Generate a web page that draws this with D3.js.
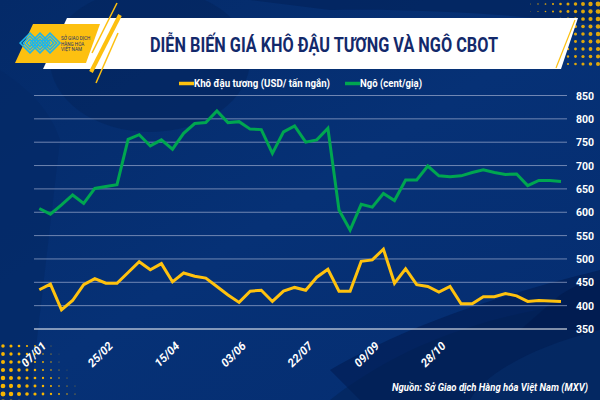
<!DOCTYPE html>
<html>
<head>
<meta charset="utf-8">
<script src="https://cdn.jsdelivr.net/npm/d3@7"></script>
<style>
html,body{margin:0;padding:0;background:#052e70;}
svg{display:block;}
</style>
</head>
<body>
<svg id="chart" width="600" height="400"></svg>
<script>
// ---- data ----
const tickLabels = ["07/01","25/02","15/04","03/06","22/07","09/09","28/10"];
const tickIndex = [0,6,12,18,24,30,36];
const soyMeal = [434,446,391,411,445,458,448,448,471,494,477,490,451,470,463,459,441,423,407,431,433,409,431,439,433,461,478,431,431,495,498,521,448,479,445,441,429,441,404,404,419,419,426,421,409,411,410,409];
const corn = [608,596,616,637,619,651,655,659,756,766,742,755,735,769,790,792,817,792,794,778,777,726,772,785,750,755,780,605,562,617,611,640,625,669,669,699,678,676,678,685,691,685,681,682,657,668,668,666];
const yTicks = [350,400,450,500,550,600,650,700,750,800,850];
const seriesNames = ["Khô đậu tương (USD/ tấn ngắn)","Ngô (cent/giạ)"];
const seriesColors = ["#ffc20e","#00a650"];
const title = "DIỄN BIẾN GIÁ KHÔ ĐẬU TƯƠNG VÀ NGÔ CBOT";
const source = "Nguồn: Sở Giao dịch Hàng hóa Việt Nam (MXV)";

const svg = d3.select("#chart");
const W = 600, H = 400;

// ---- background ----
const defs = svg.append("defs");
const g1 = defs.append("linearGradient").attr("id","bg").attr("x1",0).attr("y1",0).attr("x2",1).attr("y2",1);
g1.append("stop").attr("offset",0).attr("stop-color","#042a68");
g1.append("stop").attr("offset",0.5).attr("stop-color","#063176");
g1.append("stop").attr("offset",1).attr("stop-color","#052d70");
svg.append("rect").attr("width",W).attr("height",H).attr("fill","url(#bg)");
// dark swooshes
svg.append("path").attr("d","M250,0 H600 V25 C520,15 420,8 330,10 Z").attr("fill","#03245c").attr("opacity",0.7);
svg.append("ellipse").attr("cx",150).attr("cy",60).attr("rx",100).attr("ry",72).attr("fill","#03255e").attr("opacity",0.6);
svg.append("path").attr("d","M0,70 C30,90 50,110 60,140 L30,400 L0,400 Z").attr("fill","#042a66").attr("opacity",0.7);
svg.append("path").attr("d","M600,300 C520,310 420,330 330,400 L600,400 Z").attr("fill","#04275f").attr("opacity",0.8);
svg.append("path").attr("d","M330,370 C400,330 480,300 600,270 L600,330 C520,350 480,380 470,400 L360,400 Z").attr("fill","#021d52").attr("opacity",0.6);
svg.append("path").attr("d","M520,330 L560,295 C575,285 590,280 600,280 L600,330 Z").attr("fill","#021b4e").attr("opacity",0.7);
// dot patterns
const dotsG = svg.append("g").attr("fill","#f7b500");
for (let r = 0; r < 8; r++) {
  for (let c = 0; c < 14; c++) {
    const x = 3 + c * 8, y = 346 + r * 8;
    const rad = Math.max(0, 2.6 - c * 0.22 - (7 - r) * 0.12);
    if (rad > 0.3) dotsG.append("circle").attr("cx",x).attr("cy",y).attr("r",rad);
  }
}
for (let r = 0; r < 9; r++) {
  for (let c = 0; c < 12; c++) {
    const x = 598 - c * 7.5, y = 4 + r * 7.5;
    const rad = Math.max(0, 2.4 - c * 0.22 - r * 0.05);
    if (rad > 0.3) dotsG.append("circle").attr("cx",x).attr("cy",y).attr("r",rad).attr("opacity",0.9);
  }
}

// ---- header banner ----
svg.append("path").attr("d","M67,18 L578,18 L561,69 L43,69 Z").attr("fill","#ffffff");
svg.append("path").attr("d","M33,24 L100,24 L86,63 L15,63 Z").attr("fill","#fdc010");
svg.append("line").attr("x1",117).attr("y1",3).attr("x2",92).attr("y2",53).attr("stroke","#fdc010").attr("stroke-width",1.5);
svg.append("line").attr("x1",120).attr("y1",15).attr("x2",91).attr("y2",72).attr("stroke","#fdc010").attr("stroke-width",4);
svg.append("line").attr("x1",118).attr("y1",33).attr("x2",96).attr("y2",83).attr("stroke","#fdc010").attr("stroke-width",1.5);
svg.append("line").attr("x1",575).attr("y1",20).attr("x2",556).attr("y2",68).attr("stroke","#fdc010").attr("stroke-width",1.2);
// logo chevrons
const logo = svg.append("g").attr("fill","none").attr("stroke","#1fb4ea").attr("stroke-width",1.6);
for (let k = 0; k < 3; k++) {
  const ox = 25 + k * 10;
  for (let j = 0; j < 3; j++) {
    const s = 3.5 + j * 3.2;
    logo.append("path").attr("d",`M${ox+5-s},43 L${ox+5},${43-s} L${ox+5+s},43 L${ox+5},${43+s} Z`);
  }
}
const logoText = svg.append("g").attr("fill","#1a2f6b").attr("font-family","Roboto, sans-serif").attr("font-size",4.6);
["SỞ GIAO DỊCH","HÀNG HÓA","VIỆT NAM"].forEach((t,i)=>logoText.append("text").attr("x",61).attr("y",40+i*5.5).text(t));

svg.append("text").attr("x",150).attr("y",51.5)
  .attr("font-family","Roboto, 'Liberation Sans', sans-serif").attr("font-weight",700).attr("font-size",19.5)
  .attr("fill","#13296b").attr("textLength",348).attr("lengthAdjust","spacingAndGlyphs").text(title);

// ---- scales ----
const x = d3.scaleLinear().domain([0, soyMeal.length - 1]).range([39.3, 561]);
const y = d3.scaleLinear().domain([350, 850]).range([329, 95.5]);

// gridlines
const grid = svg.append("g");
grid.selectAll("line").data(yTicks).join("line")
  .attr("x1",34).attr("x2",567)
  .attr("y1",d=>y(d)).attr("y2",d=>y(d))
  .attr("stroke",d=>d===350?"#ffffff":"#a9b6d6")
  .attr("stroke-opacity",d=>d===350?1:0.65)
  .attr("stroke-width",d=>d===350?1.2:1);

// y axis on right
const yAxis = d3.axisRight(y).tickValues(yTicks).tickSize(0).tickPadding(0);
const ya = svg.append("g").attr("transform","translate(576,0)").call(yAxis);
ya.select(".domain").remove();
ya.selectAll("text").attr("fill","#ffffff").attr("font-family","Roboto, sans-serif")
  .attr("font-weight",700).attr("font-size",10.5).attr("x",0).attr("dy","0.35em");

// x axis labels
const xa = svg.append("g");
xa.selectAll("text").data(tickIndex).join("text")
  .attr("transform",(d)=>`translate(${x(d)+2},${341}) rotate(-45)`)
  .attr("text-anchor","end").attr("dy","0.7em")
  .attr("fill","#ffffff").attr("font-family","Roboto, sans-serif")
  .attr("font-weight",700).attr("font-style","italic").attr("font-size",11.5)
  .text((d,i)=>tickLabels[i]);

// lines
const line = d3.line().x((d,i)=>x(i)).y(d=>y(d));
[soyMeal, corn].forEach((s, k) => {
  svg.append("path").datum(s).attr("d", line)
    .attr("fill","none").attr("stroke",seriesColors[k]).attr("stroke-width",3)
    .attr("stroke-linejoin","miter").attr("stroke-linecap","butt");
});

// legend
const leg = svg.append("g").attr("font-family","Roboto, sans-serif").attr("font-weight",700).attr("font-size",10.5).attr("fill","#ffffff");
const legX = [179, 345];
const legW = [136, 62];
seriesNames.forEach((n,k)=>{
  leg.append("line").attr("x1",legX[k]).attr("x2",legX[k]+15).attr("y1",83.5).attr("y2",83.5)
    .attr("stroke",seriesColors[k]).attr("stroke-width",3.5);
  leg.append("text").attr("x",legX[k]+15).attr("y",83.5).attr("dy","0.35em")
    .attr("textLength",legW[k]).attr("lengthAdjust","spacingAndGlyphs").text(n);
});

// source
svg.append("text").attr("x",588).attr("y",391).attr("text-anchor","end")
  .attr("font-family","Roboto, sans-serif").attr("font-weight",700).attr("font-style","italic")
  .attr("font-size",10).attr("fill","#ffffff").attr("textLength",196).attr("lengthAdjust","spacingAndGlyphs").text(source);
</script>
</body>
</html>
